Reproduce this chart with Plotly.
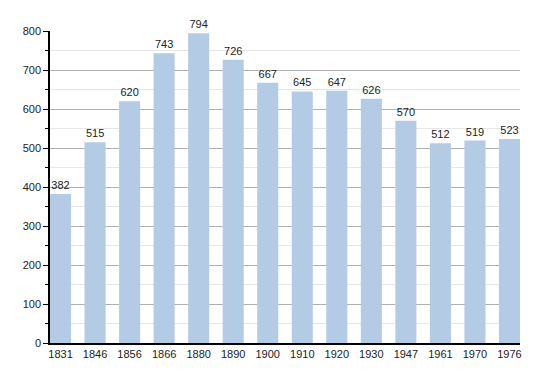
import plotly.graph_objects as go

years = ["1831", "1846", "1856", "1866", "1880", "1890", "1900", "1910", "1920", "1930", "1947", "1961", "1970", "1976"]
population = [382, 515, 620, 743, 794, 726, 667, 645, 647, 626, 570, 512, 519, 523]

xpos = list(range(len(years)))

fig = go.Figure(go.Bar(
    x=xpos, y=population, width=0.61,
    marker=dict(color="#b3cbe5", line=dict(width=0)),
    text=[str(v) for v in population], textposition="outside",
    textfont=dict(family="Liberation Sans, Arial", size=11, color="#222"),
    cliponaxis=False,
))

fig.update_layout(
    width=542, height=365,
    margin=dict(l=42, r=30, t=23, b=30, autoexpand=False),
    plot_bgcolor="white", paper_bgcolor="white",
    showlegend=False, bargap=0.39,
    font=dict(family="Liberation Sans, Arial", size=11, color="#222"),
)
fig.update_xaxes(
    range=[-0.305, 13.305], tickvals=xpos, ticktext=years,
    showline=True, linecolor="black", linewidth=1.5,
    showgrid=False, ticks="", tickfont=dict(size=11), automargin=False,
)
fig.update_yaxes(
    range=[0, 800], dtick=100, tick0=0,
    showline=True, linecolor="black", linewidth=1.5,
    ticks="outside", ticklen=5, tickcolor="black",
    gridcolor="#b0b0b0", gridwidth=1,
    minor=dict(dtick=50, ticks="outside", ticklen=3, tickcolor="black", showgrid=True, gridcolor="#e6e6e6"),
    zeroline=False, tickfont=dict(size=11), automargin=False,
)

fig.write_html("out.html")
